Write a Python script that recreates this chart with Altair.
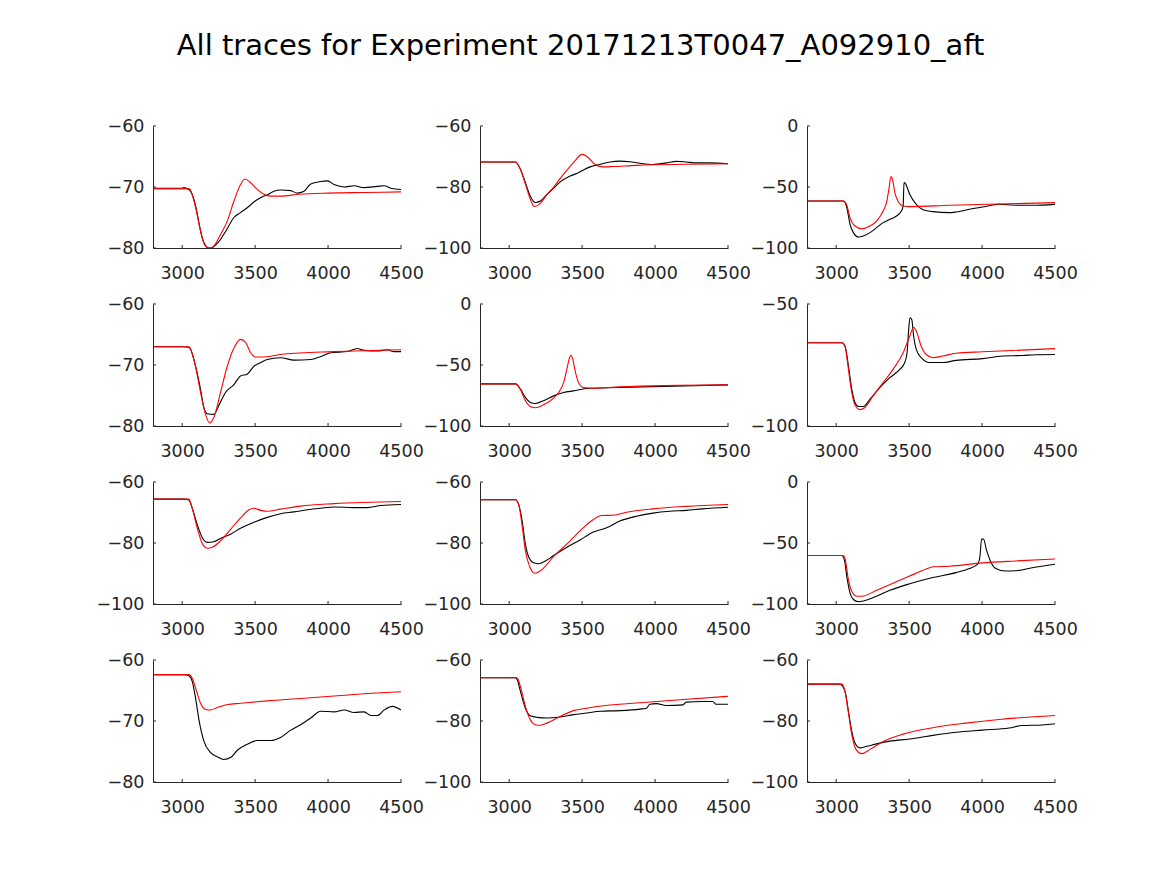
import altair as alt
import pandas as pd

TITLE = "All traces for Experiment 20171213T0047_A092910_aft"
X_DOMAIN = [2800, 4500]
X_TICKS = [3000, 3500, 4000, 4500]

Y_DOMAINS = [
    [-80, -60], [-100, -60], [-100, 0],
    [-80, -60], [-100, 0], [-100, -50],
    [-100, -60], [-100, -60], [-100, 0],
    [-80, -60], [-100, -60], [-100, -60],
]
Y_TICKS = [
    [-80, -70, -60], [-100, -80, -60], [-100, -50, 0],
    [-80, -70, -60], [-100, -50, 0], [-100, -50],
    [-100, -80, -60], [-100, -80, -60], [-100, -50, 0],
    [-80, -70, -60], [-100, -80, -60], [-100, -80, -60],
]

# recorded traces (black)
REC1 = [(2800,-70.2),(3000,-70.2),(3010,-70.1),(3030,-70.2),(3055,-70.6),(3080,-72.0),(3100,-74.0),(3120,-76.5),(3140,-78.5),(3160,-79.6),(3180,-80.0),(3200,-80.0),(3230,-79.5),(3263,-78.6),(3300,-77.2),(3355,-75.0),(3400,-74.2),(3446,-73.4),(3500,-72.3),(3550,-71.6),(3583,-71.3),(3629,-70.7),(3675,-70.5),(3744,-70.6),(3789,-71.0),(3835,-70.7),(3881,-69.5),(3950,-69.1),(3995,-69.0),(4041,-69.6),(4110,-70.0),(4178,-69.8),(4247,-70.1),(4338,-69.9),(4384,-69.8),(4430,-70.2),(4500,-70.4)]
REC2 = [(2800,-71.8),(3043,-71.8),(3077,-74.2),(3111,-78.6),(3145,-83.0),(3180,-85.1),(3214,-84.6),(3259,-82.4),(3305,-80.4),(3350,-78.3),(3418,-76.4),(3475,-75.3),(3509,-74.4),(3555,-73.4),(3623,-72.6),(3691,-71.8),(3759,-71.5),(3827,-71.7),(3896,-72.2),(3986,-72.6),(4077,-72.1),(4146,-71.6),(4214,-71.8),(4282,-72.1),(4373,-72.1),(4500,-72.4)]
REC3 = [(2800,-61.5),(3050,-61.5),(3073,-67.0),(3095,-80.6),(3118,-87.4),(3152,-91.0),(3186,-90.2),(3232,-87.4),(3277,-83.3),(3322,-79.2),(3368,-76.5),(3413,-73.8),(3447,-69.7),(3459,-65.6),(3465,-46.4),(3474,-47.0),(3504,-56.0),(3549,-64.2),(3595,-68.6),(3663,-70.2),(3776,-71.0),(3822,-70.5),(3913,-68.3),(4003,-66.4),(4117,-64.2),(4230,-65.0),(4344,-65.0),(4500,-64.2)]
REC4 = [(2800,-67.0),(3011,-67.0),(3046,-67.1),(3057,-67.4),(3092,-70.2),(3126,-74.0),(3149,-77.0),(3172,-78.0),(3217,-78.1),(3252,-76.6),(3297,-74.5),(3355,-73.2),(3400,-71.8),(3446,-71.5),(3492,-70.2),(3538,-69.6),(3583,-69.1),(3675,-68.8),(3767,-69.2),(3881,-69.1),(3950,-68.6),(4018,-68.0),(4133,-67.8),(4201,-67.3),(4247,-67.6),(4338,-67.7),(4407,-67.5),(4453,-67.8),(4500,-67.8)]
REC5 = [(2800,-65.5),(3043,-65.5),(3077,-69.8),(3111,-76.6),(3145,-80.7),(3180,-81.5),(3236,-79.3),(3305,-75.3),(3373,-72.6),(3441,-71.2),(3532,-69.3),(3759,-68.5),(3986,-67.7),(4500,-66.3)]
REC6 = [(2800,-65.9),(3039,-65.9),(3061,-67.3),(3084,-75.4),(3107,-84.9),(3129,-90.4),(3152,-92.0),(3186,-92.0),(3232,-89.0),(3300,-84.2),(3368,-80.2),(3436,-76.8),(3470,-74.0),(3486,-70.0),(3497,-60.5),(3506,-55.7),(3518,-56.4),(3531,-63.2),(3549,-68.6),(3583,-72.0),(3640,-74.0),(3731,-74.0),(3822,-73.1),(4003,-72.4),(4140,-71.3),(4276,-71.1),(4367,-70.8),(4500,-70.7)]
REC7 = [(2800,-65.6),(3011,-65.6),(3046,-65.9),(3069,-68.6),(3103,-73.9),(3137,-78.2),(3172,-79.8),(3217,-79.6),(3263,-78.5),(3332,-77.1),(3400,-75.2),(3492,-73.2),(3583,-71.6),(3675,-70.4),(3767,-69.8),(3858,-69.1),(3950,-68.6),(4041,-68.2),(4178,-68.4),(4270,-68.4),(4361,-67.7),(4500,-67.4)]
REC8 = [(2800,-65.8),(3043,-65.8),(3066,-67.5),(3089,-72.8),(3111,-80.3),(3134,-84.6),(3168,-86.5),(3202,-86.8),(3248,-85.9),(3305,-84.1),(3396,-81.4),(3486,-79.0),(3577,-76.4),(3668,-75.0),(3759,-72.8),(3873,-71.2),(3986,-70.2),(4100,-69.6),(4214,-69.3),(4327,-68.8),(4500,-68.3)]
REC9 = [(2800,-60.2),(3039,-60.2),(3057,-64.2),(3073,-77.5),(3095,-90.9),(3118,-96.3),(3152,-98.1),(3186,-97.6),(3277,-93.6),(3368,-88.8),(3504,-83.4),(3663,-78.3),(3822,-74.3),(3913,-70.9),(3969,-67.6),(3985,-61.5),(3997,-46.8),(4010,-46.8),(4031,-56.1),(4060,-65.5),(4094,-70.9),(4162,-73.0),(4230,-72.7),(4344,-70.3),(4500,-67.4)]
REC10 = [(2800,-62.4),(3011,-62.4),(3046,-62.6),(3069,-63.5),(3092,-66.3),(3115,-69.8),(3149,-73.3),(3195,-75.2),(3252,-76.0),(3286,-76.3),(3332,-76.0),(3378,-74.8),(3446,-73.8),(3515,-73.2),(3606,-73.2),(3675,-72.7),(3744,-71.5),(3812,-70.6),(3881,-69.5),(3950,-68.4),(4041,-68.5),(4110,-68.2),(4178,-68.6),(4247,-68.5),(4293,-69.1),(4338,-69.1),(4384,-68.2),(4441,-67.6),(4500,-68.2)]
REC11 = [(2800,-65.8),(3043,-65.8),(3055,-66.5),(3077,-70.3),(3111,-75.8),(3145,-78.3),(3191,-78.8),(3259,-79.0),(3350,-78.7),(3441,-77.9),(3532,-77.4),(3623,-76.8),(3759,-76.6),(3896,-76.1),(3941,-75.8),(3964,-74.5),(4009,-74.3),(4077,-74.9),(4191,-74.7),(4214,-73.8),(4327,-73.6),(4395,-73.6),(4418,-74.5),(4500,-74.5)]
REC12 = [(2800,-67.9),(3027,-67.9),(3061,-70.3),(3084,-76.8),(3107,-83.4),(3129,-87.2),(3163,-88.8),(3209,-88.3),(3277,-87.5),(3368,-86.6),(3504,-85.9),(3663,-84.7),(3822,-83.7),(4003,-83.0),(4185,-82.3),(4276,-81.5),(4412,-81.3),(4500,-80.9)]

# simulated traces (red)
SIM1 = [(2800,-70.3),(3050,-70.3),(3080,-72.2),(3100,-74.2),(3120,-76.6),(3140,-78.6),(3160,-79.7),(3190,-80.0),(3220,-79.6),(3263,-77.8),(3309,-75.6),(3355,-72.3),(3400,-69.6),(3430,-68.7),(3469,-69.3),(3515,-70.4),(3560,-71.2),(3606,-71.5),(3675,-71.5),(3800,-71.2),(4000,-71.0),(4250,-70.9),(4500,-70.8)]
SIM2 = [(2800,-71.8),(3043,-71.8),(3077,-74.2),(3111,-79.0),(3145,-84.0),(3173,-86.4),(3214,-85.3),(3259,-82.5),(3305,-80.0),(3373,-75.8),(3441,-72.0),(3500,-69.3),(3543,-70.4),(3589,-72.6),(3646,-73.4),(3714,-73.3),(3873,-72.9),(4500,-72.4)]
SIM3 = [(2800,-61.5),(3050,-61.5),(3073,-65.0),(3095,-75.1),(3129,-82.0),(3175,-84.2),(3232,-82.0),(3277,-77.9),(3322,-69.7),(3345,-62.8),(3363,-50.5),(3375,-41.5),(3386,-43.7),(3402,-54.6),(3424,-61.5),(3459,-65.6),(3504,-66.1),(3776,-65.0),(4500,-62.8)]
SIM4 = [(2800,-67.0),(3046,-67.0),(3092,-70.3),(3126,-74.5),(3160,-78.1),(3188,-79.5),(3217,-78.6),(3263,-74.5),(3309,-70.2),(3355,-67.2),(3400,-65.8),(3435,-66.3),(3469,-68.0),(3503,-68.7),(3538,-68.7),(3698,-68.2),(4041,-67.8),(4500,-67.5)]
SIM5 = [(2800,-65.5),(3043,-65.5),(3077,-70.0),(3111,-79.3),(3145,-84.0),(3180,-85.1),(3236,-82.6),(3305,-77.2),(3339,-72.6),(3373,-64.4),(3395,-53.5),(3414,-44.0),(3425,-41.8),(3436,-45.4),(3455,-56.3),(3475,-64.4),(3509,-68.5),(3577,-69.0),(3759,-67.9),(4500,-66.3)]
SIM6 = [(2800,-65.9),(3039,-65.9),(3061,-67.5),(3084,-76.8),(3107,-86.3),(3129,-91.4),(3163,-93.3),(3197,-92.4),(3254,-87.6),(3322,-82.2),(3390,-76.8),(3459,-70.0),(3504,-63.2),(3531,-59.5),(3549,-61.1),(3583,-67.3),(3617,-70.7),(3663,-72.0),(3731,-71.3),(3822,-70.2),(4003,-69.6),(4500,-68.3)]
SIM7 = [(2800,-65.6),(3046,-65.6),(3069,-68.6),(3103,-75.0),(3137,-80.1),(3172,-81.7),(3206,-81.4),(3263,-79.3),(3332,-75.5),(3400,-71.8),(3458,-69.1),(3492,-68.6),(3538,-69.3),(3583,-69.6),(3675,-68.9),(3812,-67.9),(4041,-67.1),(4500,-66.4)]
SIM8 = [(2800,-65.8),(3043,-65.8),(3066,-67.5),(3089,-74.4),(3111,-82.5),(3141,-87.8),(3175,-89.9),(3214,-89.1),(3305,-84.4),(3396,-80.3),(3486,-76.0),(3577,-72.3),(3634,-71.0),(3714,-70.9),(3805,-69.9),(3986,-68.8),(4214,-68.0),(4500,-67.4)]
SIM9 = [(2800,-60.2),(3050,-60.2),(3061,-62.9),(3084,-80.2),(3107,-89.6),(3141,-93.6),(3175,-93.6),(3277,-88.8),(3390,-82.9),(3504,-77.0),(3617,-71.4),(3663,-69.5),(3776,-69.0),(4003,-66.3),(4230,-64.7),(4500,-63.1)]
SIM10 = [(2800,-62.4),(3046,-62.4),(3069,-63.0),(3092,-64.6),(3126,-67.1),(3160,-68.1),(3195,-68.2),(3240,-67.8),(3309,-67.3),(3400,-67.1),(3583,-66.7),(3812,-66.3),(4041,-65.9),(4270,-65.5),(4500,-65.2)]
SIM11 = [(2800,-65.8),(3055,-65.8),(3077,-68.7),(3111,-75.2),(3145,-79.6),(3180,-81.2),(3214,-81.4),(3259,-80.7),(3350,-78.5),(3441,-76.6),(3532,-75.8),(3646,-75.0),(3873,-74.1),(4100,-73.3),(4500,-71.9)]
SIM12 = [(2800,-67.9),(3040,-67.9),(3061,-70.5),(3084,-77.3),(3107,-84.5),(3136,-89.3),(3175,-90.7),(3232,-89.3),(3322,-86.7),(3459,-84.3),(3663,-82.2),(3890,-80.7),(4117,-79.5),(4500,-78.2)]

REC = [REC1, REC2, REC3, REC4, REC5, REC6, REC7, REC8, REC9, REC10, REC11, REC12]
SIM = [SIM1, SIM2, SIM3, SIM4, SIM5, SIM6, SIM7, SIM8, SIM9, SIM10, SIM11, SIM12]

W, H = 248, 122
FONT = "DejaVu Sans"
AXIS_COLOR = "#262626"
TICK_LEN = 3


def panel(i):
    rec = pd.DataFrame(REC[i], columns=["t", "v"])
    sim = pd.DataFrame(SIM[i], columns=["t", "v"])
    xs = alt.Scale(domain=X_DOMAIN, nice=False, zero=False)
    ys = alt.Scale(domain=Y_DOMAINS[i], nice=False, zero=False)
    xa = alt.Axis(values=X_TICKS, title=None, ticks=False, tickSize=0, grid=False, format="d",
                  labelFlush=False, labelPadding=16, labelOverlap=False)
    ya = alt.Axis(values=Y_TICKS[i], title=None, ticks=False, tickSize=0, grid=False, format="d",
                  labelPadding=9, labelOverlap=False)
    X = alt.X("t:Q", scale=xs, axis=xa)
    Y = alt.Y("v:Q", scale=ys, axis=ya)
    l_rec = alt.Chart(rec).mark_line(color="black", strokeWidth=1.1, interpolate="monotone",
                                     clip=True).encode(x=X, y=Y)
    l_sim = alt.Chart(sim).mark_line(color="#ff0000", strokeWidth=1.1, interpolate="monotone",
                                     clip=True).encode(x=X, y=Y)
    xt = alt.Chart(pd.DataFrame({"t": X_TICKS})).mark_rule(color=AXIS_COLOR, strokeWidth=1).encode(
        x=X, y=alt.value(H), y2=alt.value(H - TICK_LEN))
    yt = alt.Chart(pd.DataFrame({"v": Y_TICKS[i]})).mark_rule(color=AXIS_COLOR, strokeWidth=1).encode(
        y=Y, x=alt.value(0), x2=alt.value(TICK_LEN))
    return alt.layer(l_rec, l_sim, xt, yt).properties(width=W, height=H)


panels = [panel(i) for i in range(12)]

chart = alt.concat(
    *panels, columns=3, spacing={"row": 56, "column": 79}, bounds="flush"
).properties(
    title=alt.TitleParams(TITLE, fontSize=29, font=FONT, fontWeight="normal", color="black",
                          anchor="middle", dx=-6, offset=56)
).configure(
    background="white", padding={"left": 95, "top": 32, "right": 5, "bottom": 5}
).configure_view(
    stroke=None
).configure_axis(
    labelFont=FONT, labelFontSize=17.5, labelColor=AXIS_COLOR, domainColor=AXIS_COLOR, domainWidth=1
)

chart.save("out.html", embed_options={"renderer": "svg", "actions": False})
